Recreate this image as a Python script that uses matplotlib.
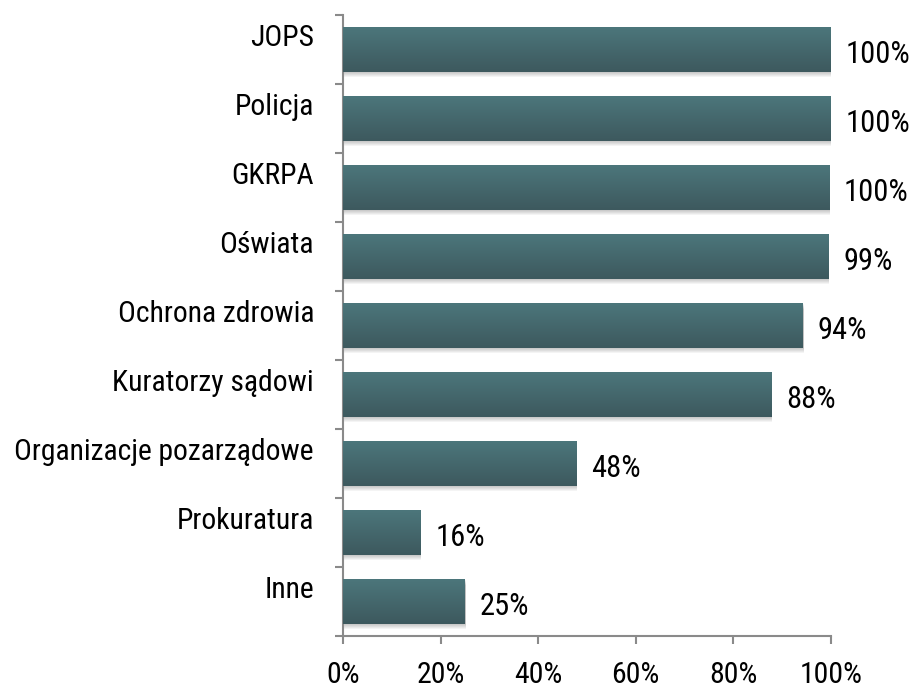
import matplotlib
matplotlib.use("Agg")
import matplotlib.pyplot as plt
import matplotlib.transforms as mtransforms
from matplotlib.colors import LinearSegmentedColormap
from matplotlib.patches import Rectangle
import numpy as np

categories = ["JOPS", "Policja", "GKRPA", "Oświata", "Ochrona zdrowia",
              "Kuratorzy sądowi", "Organizacje pozarządowe", "Prokuratura", "Inne"]
values = [1.00, 1.00, 0.996, 0.994, 0.942, 0.878, 0.478, 0.158, 0.25]
value_labels = ["100%", "100%", "100%", "99%", "94%", "88%", "48%", "16%", "25%"]
xtick_vals = [0, 0.2, 0.4, 0.6, 0.8, 1.0]
xtick_labels = ["0%", "20%", "40%", "60%", "80%", "100%"]

plt.rcParams['font.family'] = ['Roboto Condensed', 'Archivo Narrow', 'DejaVu Sans']

fig = plt.figure(figsize=(9.16, 6.88), dpi=100)
ax = fig.add_axes([343/916, 1-636/688, (831-343)/916, (636-15)/688])

pos = np.arange(len(categories))
bar_h = 0.64
px = 1/69.0  # one pixel in y data units approx

cmap = LinearSegmentedColormap.from_list("g", ["#4c767b", "#3d595e"])
grad = np.linspace(0, 1, 64).reshape(-1, 1)

bars = ax.barh(pos, values, height=bar_h, color="#46686d", zorder=3)
for b in bars:
    x0, y0 = b.get_x(), b.get_y()
    w, h = b.get_width(), b.get_height()
    # soft drop shadow
    for k in range(1, 7):
        ax.add_patch(Rectangle((x0 + 0.002, y0 + k*px*0.9), w, h, color="black",
                               alpha=0.045, lw=0, zorder=2))
    im = ax.imshow(grad, extent=[x0, x0 + w, y0 + h, y0], cmap=cmap,
                   aspect='auto', zorder=4, interpolation='bilinear')
    im.set_clip_path(b)

ax.set_xlim(0, 1.0)
ax.set_ylim(len(categories) - 0.5, -0.5)

for s in ["top", "right"]:
    ax.spines[s].set_visible(False)
for s in ["left", "bottom"]:
    ax.spines[s].set_color("#8a8a8a")
    ax.spines[s].set_linewidth(1.5)

ax.set_yticks(pos)
ax.set_yticklabels([])
ax.tick_params(axis='y', which='major', length=0)
ax.set_yticks(np.arange(-0.5, len(categories), 1.0), minor=True)
ax.tick_params(axis='y', which='minor', length=6, width=1.5, color="#8a8a8a")

ax.set_xticks(xtick_vals)
ax.set_xticklabels(xtick_labels, fontsize=21.5)
ax.tick_params(axis='x', length=6, width=1.5, color="#8a8a8a", pad=12)

trans = mtransforms.blended_transform_factory(ax.transAxes, ax.transData)
off = mtransforms.ScaledTranslation(-29/100, 3.5/100, fig.dpi_scale_trans)
for p, c in zip(pos, categories):
    ax.text(0, p, c, transform=trans + off, ha='right', va='baseline', fontsize=21.3)

for p, v, lab in zip(pos, values, value_labels):
    ax.annotate(lab, (v, p), xytext=(15, -13.5), textcoords='offset pixels',
                ha='left', va='baseline', fontsize=22, annotation_clip=False)

fig.savefig("out.png", dpi=100)
